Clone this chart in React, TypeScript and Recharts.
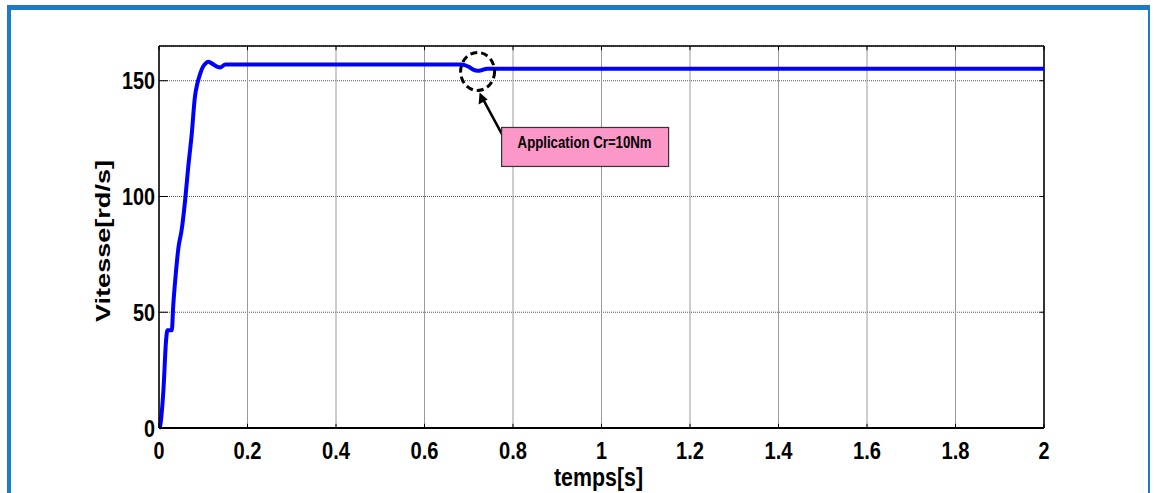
import {
  LineChart,
  Line,
  XAxis,
  YAxis,
  CartesianGrid,
  ReferenceLine,
  ReferenceDot
} from "recharts";

// temps [s] et vitesse [rd/s]
const temps = [
  0, 0.002, 0.01, 0.016, 0.019, 0.029, 0.032, 0.038, 0.044, 0.051, 0.059, 0.066,
  0.074, 0.081, 0.087, 0.093, 0.098, 0.104, 0.111, 0.119, 0.13, 0.138, 0.15, 0.2,
  0.3, 0.4, 0.5, 0.6, 0.684, 0.7, 0.71, 0.72, 0.73, 0.741, 0.8, 1.0, 1.2, 1.4,
  1.6, 1.8, 2.0
];
const vitesse = [
  0, 0.5, 16.4, 37.9, 42.2, 42.2, 52.3, 66.7, 78, 85.3, 98.3, 112.6,
  127, 142.8, 149, 153, 155.5, 157.2, 158.2, 157.5, 156.2, 155.7, 157, 157,
  157, 157, 157, 157, 157, 156, 154.8, 154.3, 154.6, 155.2, 155.2, 155.2, 155.2, 155.2,
  155.2, 155.2, 155.2
];
const xTicks = [0, 0.2, 0.4, 0.6, 0.8, 1, 1.2, 1.4, 1.6, 1.8, 2];
const yTicks = [0, 50, 100, 150];
const annotation = { t: 0.72, v: 154, text: "Application Cr=10Nm" };

const X_MAX = 2;
const Y_MAX = 165;

const data = temps.map((t, i) => ({ t, v: vitesse[i] }));

const FONT = "'Liberation Sans', Arial, sans-serif";

// la figure d'origine est étirée verticalement : on serre le texte en largeur
const labelWidth = (s: string) =>
  s.split("").reduce((w, c) => w + (c === "." ? 6 : 11), 0);

const XTick = (props: any) => {
  const { x, y, payload } = props;
  const s = String(payload.value);
  return (
    <text
      x={x}
      y={y}
      dy="0.71em"
      textAnchor="middle"
      fontFamily={FONT}
      fontWeight={700}
      fontSize={24}
      fill="#000"
      textLength={labelWidth(s)}
      lengthAdjust="spacingAndGlyphs"
    >
      {s}
    </text>
  );
};

const YTick = (props: any) => {
  const { x, y, payload } = props;
  const s = String(payload.value);
  return (
    <text
      x={x + 4}
      y={y}
      dy="0.36em"
      textAnchor="end"
      fontFamily={FONT}
      fontWeight={700}
      fontSize={24}
      fill="#000"
      textLength={labelWidth(s)}
      lengthAdjust="spacingAndGlyphs"
    >
      {s}
    </text>
  );
};

const XTitle = (props: any) => {
  const vb = props.viewBox;
  return (
    <text
      x={vb.x + vb.width / 2 - 3}
      y={vb.y + 58}
      textAnchor="middle"
      fontFamily={FONT}
      fontWeight={700}
      fontSize={25}
      textLength={89}
      lengthAdjust="spacingAndGlyphs"
      fill="#000"
    >
      temps[s]
    </text>
  );
};

const YTitle = (props: any) => {
  const vb = props.viewBox;
  const x = vb.x + 11;
  const y = vb.y + vb.height / 2 + 4;
  return (
    <text
      x={x}
      y={y}
      transform={`rotate(-90 ${x} ${y})`}
      textAnchor="middle"
      fontFamily={FONT}
      fontWeight={700}
      fontSize={21}
      textLength={162}
      lengthAdjust="spacingAndGlyphs"
      fill="#000"
    >
      Vitesse[rd/s]
    </text>
  );
};

const Callout = (props: any) => {
  const { cx, cy } = props;
  return (
    <g>
      <ellipse
        cx={cx}
        cy={cy}
        rx={17}
        ry={19}
        fill="none"
        stroke="#000"
        strokeWidth={3}
        strokeDasharray="7 4"
      />
      <line x1={cx + 25} y1={cy + 64} x2={cx + 5} y2={cy + 27} stroke="#000" strokeWidth={2.5} />
      <polygon
        points={`${cx + 2},${cy + 21} ${cx + 1},${cy + 33} ${cx + 10},${cy + 28}`}
        fill="#000"
      />
      <rect
        x={cx + 24}
        y={cy + 56}
        width={167}
        height={39}
        fill="#fb98c8"
        stroke="#333"
        strokeWidth={1.2}
      />
      <text
        x={cx + 107}
        y={cy + 77}
        textAnchor="middle"
        fontFamily={FONT}
        fontWeight={700}
        fontSize={16}
        textLength={134}
        lengthAdjust="spacingAndGlyphs"
        fill="#000"
      >
        {annotation.text}
      </text>
    </g>
  );
};

export default function App() {
  return (
    <div style={{ position: "absolute", left: 0, top: 0, width: 1154, height: 493, background: "#fff", overflow: "hidden" }}>
      <div
        style={{
          position: "absolute",
          left: 7,
          top: 5,
          width: 1137,
          height: 520,
          borderLeft: "4px solid #1c7bc4",
          borderTop: "5px solid #1c7bc4",
          borderRight: "2px solid #1c7bc4"
        }}
      />
      <LineChart
        width={1154}
        height={493}
        data={data}
        margin={{ top: 46, right: 110, left: 99, bottom: 35 }}
        style={{ position: "absolute", left: 0, top: 0, fontFamily: FONT }}
      >
        <CartesianGrid vertical={false} stroke="#555" strokeDasharray="1 1" />
        <CartesianGrid horizontal={false} stroke="#9a9a9a" />
        <XAxis
          dataKey="t"
          type="number"
          domain={[0, X_MAX]}
          ticks={xTicks}
          height={30}
          tickLine={false}
          tickMargin={8}
          axisLine={{ stroke: "#000", strokeWidth: 2 }}
          tick={<XTick />}
          label={<XTitle />}
        />
        <YAxis
          type="number"
          domain={[0, Y_MAX]}
          ticks={yTicks}
          width={60}
          tickLine={false}
          tickMargin={2}
          axisLine={{ stroke: "#000", strokeWidth: 1.5 }}
          tick={<YTick />}
          label={<YTitle />}
        />
        <ReferenceLine y={Y_MAX} stroke="#000" strokeWidth={1.5} />
        <ReferenceLine x={X_MAX} stroke="#000" strokeWidth={1.5} />
        {/* petites graduations intérieures, style Matlab */}
        {xTicks.map((t) => (
          <ReferenceLine
            key={`tt${t}`}
            segment={[{ x: t, y: Y_MAX }, { x: t, y: Y_MAX - 1.8 }]}
            stroke="#000"
          />
        ))}
        {xTicks.map((t) => (
          <ReferenceLine
            key={`tb${t}`}
            segment={[{ x: t, y: 0 }, { x: t, y: 1.8 }]}
            stroke="#000"
          />
        ))}
        {yTicks.map((v) => (
          <ReferenceLine
            key={`tl${v}`}
            segment={[{ x: 0, y: v }, { x: 0.02, y: v }]}
            stroke="#000"
          />
        ))}
        {yTicks.map((v) => (
          <ReferenceLine
            key={`tr${v}`}
            segment={[{ x: X_MAX, y: v }, { x: X_MAX - 0.01, y: v }]}
            stroke="#000"
          />
        ))}
        <Line
          type="monotone"
          dataKey="v"
          stroke="#0000ff"
          strokeWidth={4}
          dot={false}
          isAnimationActive={false}
        />
        <ReferenceDot x={annotation.t} y={annotation.v} r={17} shape={<Callout />} />
      </LineChart>
    </div>
  );
}
